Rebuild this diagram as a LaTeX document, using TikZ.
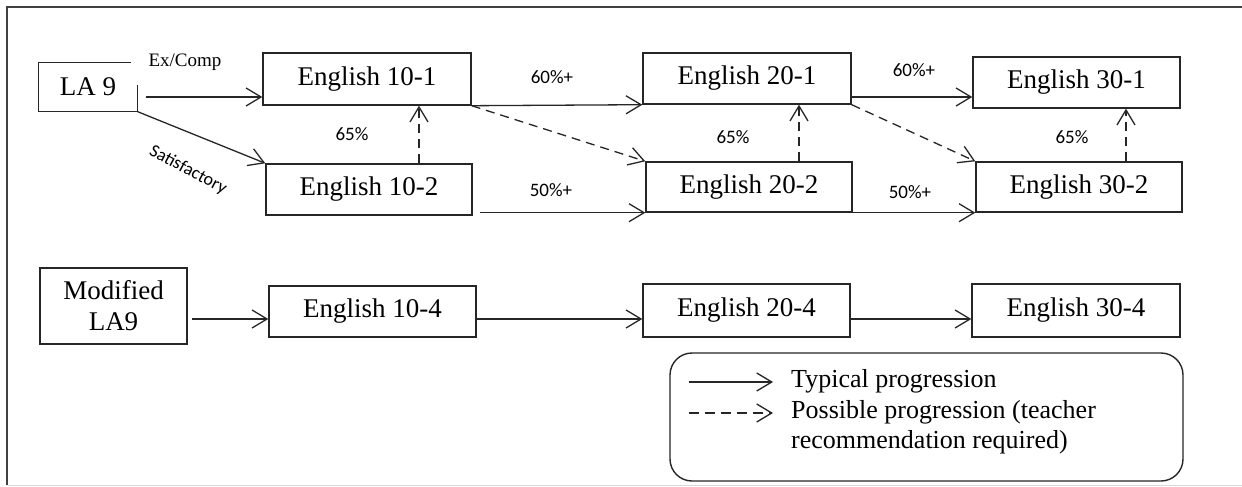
\documentclass[tikz,border=0pt]{standalone}
\usepackage{fontspec}
\setmainfont{Liberation Serif}
\newfontfamily\carl{Carlito}
\usetikzlibrary{arrows.meta,calc}
\begin{document}
\begin{tikzpicture}[x=1pt,y=-1pt,
  box/.style={draw=black!85,line width=1.4pt,inner sep=0pt,font=\fontsize{27}{31}\selectfont,align=center},
  arr/.style={draw=black!85,line width=1.3pt,-{Straight Barb[length=15pt,width=18pt,line width=1.3pt]}},
  dsh/.style={arr,dash pattern=on 9pt off 6pt},
  pct/.style={font=\carl\fontsize{19}{22}\selectfont,inner sep=0pt},
  lgd/.style={font=\fontsize{26}{30}\selectfont,inner sep=0pt,align=left,anchor=west}]
\useasboundingbox (0,0) rectangle (1242,487);
\fill[white] (0,0) rectangle (1242,487);
% outer frame
\draw[line width=2pt,black!75] (1242,7) -- (7,7) -- (7,485);
\draw[line width=1pt,black!15] (7,485) -- (1242,485);
% nodes
\node[box,draw=none,minimum width=98pt,minimum height=48pt] (la9) at (88,87) {LA 9};
\draw[black!85,line width=1.4pt] ([yshift=-23pt]la9.north east) -- (la9.south east) -- (la9.south west) -- (la9.north west) -- ([xshift=-7pt]la9.north east);
\node[box,minimum width=208pt,minimum height=52pt] (e101) at (367,79) {English 10-1};
\node[box,minimum width=206pt,minimum height=51pt] (e102) at (369,189.5) {English 10-2};
\node[box,minimum width=208pt,minimum height=51pt] (e201) at (747,78.5) {English 20-1};
\node[box,minimum width=206pt,minimum height=50pt] (e202) at (749,187) {English 20-2};
\node[box,minimum width=207pt,minimum height=51pt] (e301) at (1076.5,82.5) {English 30-1};
\node[box,minimum width=206pt,minimum height=50pt] (e302) at (1079,187) {English 30-2};
\node[box,minimum width=147pt,minimum height=76pt] (mod) at (113.5,306) {Modified\\LA9};
\node[box,minimum width=207pt,minimum height=51pt] (e104) at (372.5,311.5) {English 10-4};
\node[box,minimum width=207pt,minimum height=53pt] (e204) at (746.5,310.5) {English 20-4};
\node[box,minimum width=208pt,minimum height=53pt] (e304) at (1076,310.5) {English 30-4};
% labels
\node[font=\fontsize{19}{22}\selectfont,inner sep=0pt] (exc) at (185,62) {Ex/Comp};
\node[font=\carl\fontsize{18}{21}\selectfont,inner sep=0pt,rotate=-28] (sat) at (188,170) {Satisfactory};
\node[pct] (p1) at (352,134) {65\%};
\node[pct] (p2) at (733,137) {65\%};
\node[pct] (p3) at (1072,137) {65\%};
\node[pct] (p4) at (552,77) {60\%+};
\node[pct] (p5) at (914,70) {60\%+};
\node[pct] (p6) at (551,190) {50\%+};
\node[pct] (p7) at (910,192) {50\%+};
% connectors top
\draw[arr] ([xshift=8pt,yshift=-10pt]la9.east) -- ([yshift=-18pt]e101.west);
\draw[arr] (la9.south east) -- (e102.north west);
\draw[arr] (e101.south east) -- (e201.south west);
\draw[dsh] (e101.south east) -- (e202.north west);
\draw[arr] ([xshift=7pt,yshift=3pt]e102.south east) -- (e202.south west);
\coordinate (d1) at ([xshift=50pt]e102.north);
\draw[dsh] (d1) -- (d1 |- e101.south);
\coordinate (d2) at ([xshift=50pt]e202.north);
\draw[dsh] (d2) -- (d2 |- e201.south);
\coordinate (d3) at ([xshift=47pt]e302.north);
\draw[dsh] (d3) -- (d3 |- e301.south);
\coordinate (r1) at ([yshift=-14.5pt]e301.west);
\draw[arr] (e201.east |- r1) -- (r1);
\draw[dsh] (e201.south east) -- (e302.north west);
\draw[arr] (e202.south east) -- (e302.south west);
% connectors bottom
\coordinate (q) at ([yshift=-7.5pt]e104.west);
\draw[arr] ($(mod.east |- q)+(4,0)$) -- (q);
\draw[arr] (e104.east |- q) -- (e204.west |- q);
\draw[arr] (e204.east |- q) -- (e304.west |- q);
% legend
\node[draw=black!85,line width=1.4pt,rounded corners=22pt,minimum width=513pt,minimum height=128pt,inner sep=0pt] (leg) at (926.5,417) {};
\coordinate (ls1) at (689,382);
\coordinate (le1) at (773,382);
\coordinate (ls2) at (689,413);
\coordinate (le2) at (773,413);
\draw[arr] (ls1) -- (le1);
\draw[dsh,dash pattern=on 10pt off 6pt] (ls2) -- (le2);
\node[lgd] (t1) at (791,381) {Typical progression};
\node[lgd] (t2) at (791,427) {Possible progression (teacher\\recommendation required)};
\end{tikzpicture}
\end{document}
